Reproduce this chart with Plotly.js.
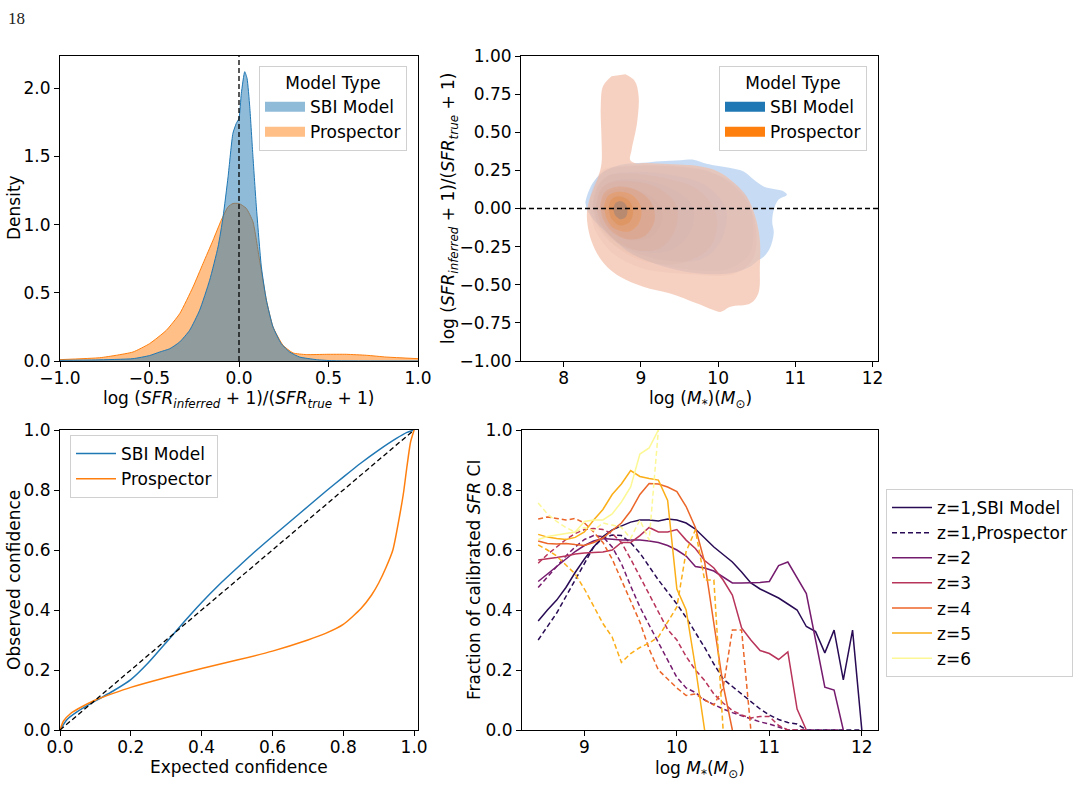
<!DOCTYPE html>
<html>
<head>
<meta charset="utf-8">
<script src="https://cdn.plot.ly/plotly-3.0.1.min.js"></script>
<style>
  html, body { margin: 0; padding: 0; background: #fff; }
  #fig { width: 1084px; height: 796px; }
</style>
</head>
<body>
<div id="fig"></div>
<script>
// ---------- Panel A: 1-D density of log SFR residuals ----------
const residSbi = [-1.0, -0.8, -0.592, -0.5, -0.443, -0.387, -0.331, -0.276, -0.22, -0.164, -0.117, -0.089, -0.061, -0.034, -0.015, 0.0, 0.013, 0.032, 0.045, 0.06, 0.078, 0.097, 0.125, 0.153, 0.19, 0.236, 0.283, 0.339, 0.432, 0.525, 1.0];
const densitySbi = [0.005, 0.008, 0.017, 0.04, 0.066, 0.09, 0.14, 0.225, 0.372, 0.592, 0.837, 1.057, 1.351, 1.67, 1.743, 1.78, 1.963, 2.122, 2.073, 1.865, 1.498, 1.131, 0.69, 0.446, 0.25, 0.127, 0.066, 0.029, 0.01, 0.002, 0.0];
const residPro = [-1.0, -0.778, -0.685, -0.592, -0.5, -0.406, -0.331, -0.257, -0.201, -0.145, -0.099, -0.061, -0.034, 0.0, 0.041, 0.078, 0.115, 0.153, 0.19, 0.246, 0.302, 0.376, 0.488, 0.6, 0.711, 0.823, 1.0];
const densityPro = [0.01, 0.024, 0.042, 0.066, 0.127, 0.225, 0.348, 0.543, 0.715, 0.886, 1.033, 1.131, 1.155, 1.155, 1.119, 1.021, 0.739, 0.446, 0.25, 0.115, 0.059, 0.047, 0.049, 0.049, 0.042, 0.029, 0.017];

// ---------- Panel B: 2-D KDE contour outlines (log M*, residual) ----------
const sbiLevel1 = [[8.28,0.04],[8.30,0.08],[8.38,0.17],[8.51,0.24],[8.77,0.29],[9.03,0.30],[9.25,0.31],[9.51,0.316],[9.68,0.32],[9.85,0.294],[10.16,0.266],[10.33,0.243],[10.46,0.19],[10.59,0.145],[10.72,0.128],[10.85,0.112],[10.89,0.09],[10.78,0.057],[10.72,-0.01],[10.70,-0.086],[10.72,-0.16],[10.67,-0.26],[10.59,-0.316],[10.52,-0.34],[10.42,-0.38],[10.16,-0.425],[9.72,-0.425],[9.29,-0.38],[8.86,-0.29],[8.56,-0.16],[8.38,-0.07],[8.30,-0.01]];
const sbiLevel2 = [[8.33,0.02],[8.40,0.16],[8.55,0.25],[8.9,0.275],[9.5,0.27],[10.0,0.22],[10.35,0.1],[10.45,-0.1],[10.4,-0.3],[10.1,-0.40],[9.5,-0.39],[9.0,-0.33],[8.6,-0.22],[8.4,-0.1]];
const sbiLevel3 = [[8.38,0.03],[8.45,0.15],[8.6,0.22],[8.9,0.24],[9.4,0.22],[9.85,0.15],[10.1,0.0],[10.05,-0.2],[9.8,-0.33],[9.3,-0.34],[8.85,-0.27],[8.55,-0.17],[8.42,-0.07]];
const sbiLevel4 = [[8.42,0.02],[8.5,0.13],[8.65,0.18],[8.95,0.19],[9.35,0.14],[9.65,0.03],[9.65,-0.14],[9.4,-0.27],[9.0,-0.28],[8.7,-0.2],[8.5,-0.1]];
const sbiLevel5 = [[8.48,0.02],[8.55,0.10],[8.7,0.13],[8.95,0.12],[9.2,0.05],[9.28,-0.06],[9.15,-0.18],[8.9,-0.21],[8.65,-0.15],[8.52,-0.07]];
const sbiLevel6 = [[8.55,0.02],[8.62,0.08],[8.75,0.09],[8.92,0.05],[8.98,-0.04],[8.9,-0.12],[8.75,-0.14],[8.62,-0.09]];
const sbiLevel7 = [[8.62,0.01],[8.68,0.05],[8.78,0.05],[8.85,0.0],[8.82,-0.06],[8.72,-0.08],[8.64,-0.04]];

const proLevel1 = [[8.80,0.88],[8.92,0.836],[8.97,0.737],[8.95,0.562],[8.88,0.386],[8.86,0.32],[8.92,0.298],[9.03,0.298],[9.29,0.294],[9.55,0.287],[9.72,0.281],[9.94,0.255],[10.16,0.189],[10.37,0.079],[10.48,-0.053],[10.54,-0.206],[10.54,-0.382],[10.52,-0.557],[10.42,-0.622],[10.16,-0.645],[10.03,-0.678],[9.94,-0.666],[9.72,-0.622],[9.38,-0.557],[9.03,-0.513],[8.73,-0.447],[8.56,-0.382],[8.43,-0.293],[8.34,-0.184],[8.30,-0.053],[8.32,0.036],[8.38,0.123],[8.45,0.211],[8.49,0.298],[8.49,0.452],[8.48,0.671],[8.51,0.803],[8.62,0.868]];
const proLevel2 = [[8.32,0.0],[8.38,0.15],[8.5,0.25],[8.8,0.28],[9.4,0.28],[9.9,0.24],[10.3,0.1],[10.48,-0.1],[10.45,-0.33],[10.2,-0.43],[9.6,-0.43],[9.0,-0.39],[8.6,-0.28],[8.4,-0.14]];
const proLevel3 = [[8.37,0.0],[8.42,0.13],[8.55,0.21],[8.85,0.23],[9.3,0.2],[9.75,0.12],[9.98,-0.05],[9.9,-0.25],[9.5,-0.36],[9.0,-0.34],[8.65,-0.24],[8.45,-0.12]];
const proLevel4 = [[8.42,0.0],[8.47,0.12],[8.6,0.17],[8.85,0.18],[9.2,0.14],[9.45,0.03],[9.45,-0.13],[9.25,-0.26],[8.9,-0.27],[8.62,-0.19],[8.47,-0.09]];
const proLevel5 = [[8.47,0.01],[8.52,0.1],[8.65,0.14],[8.9,0.13],[9.12,0.05],[9.18,-0.07],[9.05,-0.18],[8.8,-0.2],[8.6,-0.14],[8.5,-0.06]];
const proLevel6 = [[8.52,0.01],[8.57,0.08],[8.7,0.11],[8.88,0.09],[9.0,0.01],[8.98,-0.09],[8.85,-0.15],[8.65,-0.13],[8.55,-0.06]];
const proLevel7 = [[8.58,0.0],[8.62,0.06],[8.72,0.08],[8.85,0.05],[8.9,-0.02],[8.85,-0.09],[8.72,-0.11],[8.61,-0.06]];
const proLevel8 = [[8.64,0.0],[8.68,0.04],[8.76,0.045],[8.82,0.01],[8.81,-0.05],[8.73,-0.07],[8.66,-0.04]];

// ---------- Panel C: calibration curves ----------
const expectedSbi = [0, 0.02, 0.05, 0.1, 0.15, 0.2, 0.25, 0.3, 0.35, 0.4, 0.45, 0.5, 0.55, 0.6, 0.65, 0.7, 0.75, 0.8, 0.85, 0.9, 0.95, 0.98, 1.0];
const observedSbi = [0, 0.035, 0.062, 0.097, 0.13, 0.168, 0.225, 0.292, 0.36, 0.425, 0.485, 0.54, 0.594, 0.645, 0.695, 0.745, 0.795, 0.843, 0.89, 0.933, 0.972, 0.992, 1.0];
const expectedPro = [0, 0.01, 0.03, 0.05, 0.1, 0.15, 0.2, 0.3, 0.4, 0.5, 0.6, 0.7, 0.75, 0.8, 0.85, 0.88, 0.9, 0.92, 0.94, 0.96, 0.97, 0.98, 0.99, 1.0];
const observedPro = [0, 0.03, 0.055, 0.07, 0.1, 0.122, 0.142, 0.175, 0.205, 0.233, 0.263, 0.3, 0.322, 0.352, 0.405, 0.45, 0.49, 0.54, 0.6, 0.72, 0.79, 0.88, 0.96, 1.0];
const idealLine = [0, 1];

// ---------- Panel D: calibrated fraction vs stellar mass, per redshift ----------
const logMass = [8.5,8.6,8.7,8.8,8.9,9.0,9.1,9.2,9.3,9.4,9.5,9.6,9.7,9.8,9.9,10.0,10.1,10.2,10.3,10.4,10.5,10.6,10.7,10.8,10.9,11.0,11.1,11.2,11.3,11.4,11.5,11.6,11.7,11.8,11.9,12.0];
const redshifts = [1, 2, 3, 4, 5, 6];
const fracSbi = {
  1: [0.363,0.40,0.433,0.475,0.525,0.57,0.61,0.645,0.667,0.68,0.693,0.70,0.70,0.697,0.703,0.70,0.69,0.67,0.64,0.61,0.585,0.56,0.527,0.49,0.47,0.455,0.44,0.42,0.40,0.345,0.328,0.257,0.333,0.167,0.333,0.0],
  2: [0.495,0.52,0.545,0.57,0.595,0.615,0.63,0.638,0.635,0.633,0.633,0.633,0.63,0.625,0.615,0.60,0.58,0.545,0.54,0.53,0.51,0.49,0.49,0.49,0.492,0.495,0.548,0.56,0.505,0.455,0.30,0.143,0.133,0.0,null,null],
  3: [0.567,0.57,0.575,0.58,0.587,0.59,0.592,0.593,0.60,0.625,0.625,0.648,0.675,0.66,0.66,0.668,0.633,0.605,0.565,0.54,0.50,0.45,0.34,0.30,0.265,0.255,0.235,0.26,0.07,0.0,null,null,null,null,null,null],
  4: [0.63,0.622,0.62,0.622,0.618,0.615,0.625,0.64,0.665,0.69,0.73,0.785,0.822,0.82,0.81,0.795,0.745,0.675,0.56,0.35,0.15,0.0,null,null,null,null,null,null,null,null,null,null,null,null,null,null],
  5: [0.652,0.643,0.638,0.635,0.642,0.66,0.70,0.735,0.785,0.82,0.865,0.845,0.838,0.833,0.765,0.47,0.40,0.21,0.0,null,null,null,null,null,null,null,null,null,null,null,null,null,null,null,null,null],
  6: [0.635,0.645,0.65,0.655,0.66,0.695,0.70,0.70,0.72,0.76,0.81,0.92,0.94,1.0,null,null,null,null,null,null,null,null,null,null,null,null,null,null,null,null,null,null,null,null,null,null]
};
const fracPro = {
  1: [0.30,0.345,0.39,0.445,0.50,0.56,0.61,0.64,0.65,0.648,0.625,0.59,0.545,0.50,0.46,0.42,0.375,0.325,0.275,0.22,0.17,0.145,0.12,0.095,0.07,0.05,0.035,0.025,0.02,0.0,0.0,0.0,0.0,0.0,0.0,0.0],
  2: [0.475,0.51,0.545,0.58,0.61,0.635,0.648,0.645,0.61,0.555,0.48,0.41,0.35,0.29,0.23,0.175,0.14,0.125,0.10,0.085,0.07,0.058,0.047,0.037,0.027,0.02,0.01,0.0,0.0,0.0,0.0,0.0,0.0,0.0,null,null],
  3: [0.556,0.585,0.61,0.635,0.655,0.668,0.672,0.668,0.655,0.625,0.57,0.51,0.45,0.395,0.335,0.30,0.245,0.20,0.165,0.12,0.09,0.065,0.05,0.04,0.045,0.045,0.015,0.0,0.0,0.0,null,null,null,null,null,null],
  4: [0.703,0.71,0.705,0.70,0.705,0.69,0.66,0.625,0.57,0.50,0.43,0.36,0.27,0.20,0.17,0.14,0.115,0.12,0.10,0.083,0.14,0.333,0.333,0.0,null,null,null,null,null,null,null,null,null,null,null,null],
  5: [0.617,0.60,0.58,0.55,0.52,0.47,0.41,0.355,0.31,0.225,0.255,0.275,0.29,0.31,0.36,0.41,0.595,0.667,0.50,0.50,0.0,null,null,null,null,null,null,null,null,null,null,null,null,null,null,null],
  6: [0.757,0.72,0.695,0.675,0.66,0.675,0.665,0.69,0.683,0.675,0.639,0.70,0.633,1.0,null,null,null,null,null,null,null,null,null,null,null,null,null,null,null,null,null,null,null,null,null,null]
};

// ---------- styling ----------
const FONT = 'DejaVu Sans, Liberation Sans, sans-serif';
const FS = 17;
const SBI_COLOR = '#1f77b4';
const PRO_COLOR = '#ff7f0e';
const zColors = {1: '#280b54', 2: '#751b6e', 3: '#b8345a', 4: '#eb6628', 5: '#fbae17', 6: '#fcf895'};
const W = 1084, H = 796;
const px = v => v / W;
const py = v => 1 - v / H;

const traces = [];

// Panel A fills (Prospector underneath, SBI on top)
traces.push({type: 'scatter', x: residPro, y: densityPro, mode: 'lines', fill: 'tozeroy',
  fillcolor: 'rgba(255,127,14,0.5)', line: {color: PRO_COLOR, width: 1, shape: 'spline', smoothing: 0.5},
  xaxis: 'x', yaxis: 'y', showlegend: false, hoverinfo: 'skip'});
traces.push({type: 'scatter', x: residSbi, y: densitySbi, mode: 'lines', fill: 'tozeroy',
  fillcolor: 'rgba(31,119,180,0.5)', line: {color: SBI_COLOR, width: 1, shape: 'spline', smoothing: 0.5},
  xaxis: 'x', yaxis: 'y', showlegend: false, hoverinfo: 'skip'});
// legend swatches for panel A
traces.push({type: 'scatter', x: [null], y: [null], mode: 'lines', name: 'SBI Model',
  line: {color: 'rgba(31,119,180,0.5)', width: 12}, xaxis: 'x', yaxis: 'y', legend: 'legend', legendrank: 1});
traces.push({type: 'scatter', x: [null], y: [null], mode: 'lines', name: 'Prospector',
  line: {color: 'rgba(255,127,14,0.5)', width: 12}, xaxis: 'x', yaxis: 'y', legend: 'legend', legendrank: 2});

// Panel B stacked translucent contour levels
const kdeLayers = [
  [sbiLevel1, 'rgba(165,198,238,0.62)'],
  [proLevel1, 'rgba(242,191,169,0.72)'],
  [sbiLevel2, 'rgba(130,140,165,0.03)'],
  [sbiLevel3, 'rgba(130,140,165,0.03)'],
  [sbiLevel4, 'rgba(130,140,165,0.035)'],
  [sbiLevel5, 'rgba(130,140,165,0.04)'],
  [sbiLevel6, 'rgba(130,140,165,0.05)'],
  [sbiLevel7, 'rgba(130,140,165,0.06)'],
  [proLevel2, 'rgba(215,160,150,0.10)'],
  [proLevel3, 'rgba(220,150,125,0.08)'],
  [proLevel4, 'rgba(230,145,100,0.11)'],
  [proLevel5, 'rgba(236,140,72,0.20)'],
  [proLevel6, 'rgba(238,138,60,0.30)'],
  [proLevel7, 'rgba(222,138,72,0.40)'],
  [proLevel8, 'rgba(160,130,118,0.60)']
];
kdeLayers.forEach(([pts, col]) => {
  traces.push({type: 'scatter', x: pts.map(p => p[0]), y: pts.map(p => p[1]), mode: 'lines',
    fill: 'toself', fillcolor: col, line: {width: 0, shape: 'spline', smoothing: 1.0},
    xaxis: 'x2', yaxis: 'y2', showlegend: false, hoverinfo: 'skip'});
});
traces.push({type: 'scatter', x: [null], y: [null], mode: 'lines', name: 'SBI Model',
  line: {color: SBI_COLOR, width: 12}, xaxis: 'x2', yaxis: 'y2', legend: 'legend2', legendrank: 1});
traces.push({type: 'scatter', x: [null], y: [null], mode: 'lines', name: 'Prospector',
  line: {color: PRO_COLOR, width: 12}, xaxis: 'x2', yaxis: 'y2', legend: 'legend2', legendrank: 2});

// Panel C calibration curves
traces.push({type: 'scatter', x: expectedSbi, y: observedSbi, mode: 'lines', name: 'SBI Model',
  line: {color: SBI_COLOR, width: 1.5, shape: 'spline', smoothing: 0.6}, xaxis: 'x3', yaxis: 'y3', legend: 'legend3'});
traces.push({type: 'scatter', x: expectedPro, y: observedPro, mode: 'lines', name: 'Prospector',
  line: {color: PRO_COLOR, width: 1.5, shape: 'spline', smoothing: 0.6}, xaxis: 'x3', yaxis: 'y3', legend: 'legend3'});
traces.push({type: 'scatter', x: idealLine, y: idealLine, mode: 'lines', showlegend: false,
  line: {color: '#000', width: 1.3, dash: '5px,3px'}, xaxis: 'x3', yaxis: 'y3', hoverinfo: 'skip'});

// Panel D per-redshift curves
redshifts.forEach((z) => {
  traces.push({type: 'scatter', x: logMass, y: fracSbi[z], mode: 'lines',
    name: z === 1 ? 'z=1,SBI Model' : 'z=' + z,
    line: {color: zColors[z], width: 1.5}, xaxis: 'x4', yaxis: 'y4',
    legend: 'legend4', legendrank: z === 1 ? 1 : z + 1, showlegend: true});
  traces.push({type: 'scatter', x: logMass, y: fracPro[z], mode: 'lines',
    name: z === 1 ? 'z=1,Prospector' : 'z=' + z + ',Prospector',
    line: {color: zColors[z], width: 1.5, dash: '5px,3px'}, xaxis: 'x4', yaxis: 'y4',
    legend: 'legend4', legendrank: 2, showlegend: z === 1});
});

function axis(extra) {
  return Object.assign({
    showline: true, linecolor: '#000', linewidth: 1, mirror: true,
    ticks: 'outside', ticklen: 5, tickwidth: 1, tickcolor: '#000',
    showgrid: false, zeroline: false, fixedrange: true,
    tickfont: {family: FONT, size: FS, color: '#000'}
  }, extra);
}
function xAxis(extra) { return axis(Object.assign({ticklabelstandoff: -3}, extra)); }
const residLabel = 'log (<i>SFR</i><sub><i>inferred</i></sub> + 1)/(<i>SFR</i><sub><i>true</i></sub> + 1)';

// axis titles placed as paper annotations (pixel positions on the page)
function axisLabel(text, x, y, angle) {
  return {text: text, xref: 'paper', yref: 'paper', x: px(x), y: py(y),
    xanchor: 'center', yanchor: 'middle', textangle: angle || 0, showarrow: false, borderpad: 0,
    font: {family: FONT, size: FS, color: '#000'}};
}

function legendBox(x, y, extra) {
  return Object.assign({
    x: px(x), y: py(y), xanchor: 'left', yanchor: 'top',
    bgcolor: 'rgba(255,255,255,0.85)', bordercolor: '#d0d0d0', borderwidth: 1,
    font: {family: FONT, size: FS, color: '#000'}, tracegroupgap: 0, itemwidth: 40,
    traceorder: 'normal'
  }, extra);
}

const layout = {
  width: W, height: H,
  margin: {l: 0, r: 0, t: 0, b: 0},
  paper_bgcolor: '#fff', plot_bgcolor: '#fff',
  font: {family: FONT, size: FS, color: '#000'},
  showlegend: true,
  hovermode: false,

  xaxis: xAxis({domain: [px(60), px(418)], anchor: 'y', range: [-1, 1],
    tickvals: [-1, -0.5, 0, 0.5, 1], tickformat: '.1f'}),
  yaxis: axis({domain: [py(361), py(56)], anchor: 'x', range: [0, 2.237],
    tickvals: [0, 0.5, 1, 1.5, 2], tickformat: '.1f'}),

  xaxis2: xAxis({domain: [px(521), px(878)], anchor: 'y2', range: [7.447, 12.07],
    tickvals: [8, 9, 10, 11, 12]}),
  yaxis2: axis({domain: [py(361), py(56)], anchor: 'x2', range: [-1, 1],
    tickvals: [-1, -0.75, -0.5, -0.25, 0, 0.25, 0.5, 0.75, 1], tickformat: '.2f'}),

  xaxis3: xAxis({domain: [px(60), px(418)], anchor: 'y3', range: [0, 1.011],
    tickvals: [0, 0.2, 0.4, 0.6, 0.8, 1.0], tickformat: '.1f'}),
  yaxis3: axis({domain: [py(730), py(430)], anchor: 'x3', range: [0, 1.0],
    tickvals: [0, 0.2, 0.4, 0.6, 0.8, 1.0], tickformat: '.1f'}),

  xaxis4: xAxis({domain: [px(522), px(878)], anchor: 'y4', range: [8.325, 12.175],
    tickvals: [9, 10, 11, 12]}),
  yaxis4: axis({domain: [py(730), py(430)], anchor: 'x4', range: [0, 1.0],
    tickvals: [0, 0.2, 0.4, 0.6, 0.8, 1.0], tickformat: '.1f'}),

  legend: legendBox(259, 66, {title: {text: 'Model Type', side: 'top center', font: {family: FONT, size: FS}}}),
  legend2: legendBox(719, 66, {title: {text: 'Model Type', side: 'top center', font: {family: FONT, size: FS}}}),
  legend3: legendBox(70, 435, {}),
  legend4: legendBox(886, 489, {}),

  shapes: [
    {type: 'line', xref: 'x', yref: 'y domain', x0: 0, x1: 0, y0: 0, y1: 1,
      line: {color: '#000', width: 1.3, dash: '5px,3px'}, layer: 'above'},
    {type: 'line', xref: 'x2 domain', yref: 'y2', x0: 0, x1: 1, y0: 0, y1: 0,
      line: {color: '#000', width: 1.3, dash: '5px,3px'}, layer: 'above'}
  ],
  annotations: [
    {text: '18', xref: 'paper', yref: 'paper', x: px(6), y: py(18), xanchor: 'left', yanchor: 'middle',
      showarrow: false, font: {family: 'Liberation Serif, DejaVu Serif, serif', size: 17, color: '#222'}},
    axisLabel(residLabel, 239, 399),
    axisLabel('Density', 14, 208, -90),
    axisLabel('log (<i>M</i><sub>*</sub>)(<i>M</i><sub>⊙</sub>)', 700, 399),
    axisLabel(residLabel, 449, 208, -90),
    axisLabel('Expected confidence', 239, 767),
    axisLabel('Observed confidence', 14, 580, -90),
    axisLabel('log <i>M</i><sub>*</sub>(<i>M</i><sub>⊙</sub>)', 700, 769),
    axisLabel('Fraction of calibrated <i>SFR</i> CI', 474, 580, -90)
  ]
};

Plotly.newPlot('fig', traces, layout, {staticPlot: true, displayModeBar: false});
</script>
</body>
</html>
